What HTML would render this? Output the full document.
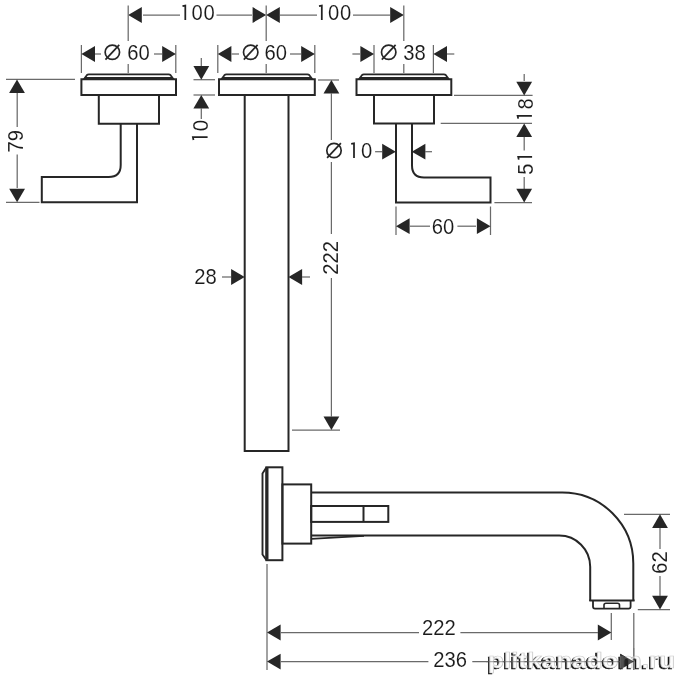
<!DOCTYPE html>
<html><head><meta charset="utf-8"><style>
html,body{margin:0;padding:0;background:#fff;width:675px;height:675px;overflow:hidden}
svg{display:block;filter:grayscale(1)}
text{font-family:"Liberation Sans",sans-serif;fill:#1a1a1a;stroke:#fff;stroke-width:0.1px}
</style></head><body>
<svg width="675" height="675" viewBox="0 0 675 675"><g opacity="0.999">
<line x1="143" y1="15" x2="180" y2="15" stroke="#6a6a6a" stroke-width="1.25"/>
<line x1="216.5" y1="15" x2="252" y2="15" stroke="#6a6a6a" stroke-width="1.25"/>
<polygon points="128.20,15.00 141.80,7.10 141.80,22.90" fill="#262626"/>
<polygon points="266.20,15.00 252.60,7.10 252.60,22.90" fill="#262626"/>
<path d="M182.50,6.20 L185.30,5.60 L185.30,19.90" fill="none" stroke="#222" stroke-width="1.75" stroke-linejoin="miter"/>
<text x="0.40" y="7.80" transform="translate(203.10,12.65) scale(0.92,1)" text-anchor="middle" font-size="22" letter-spacing="0.8">00</text>
<line x1="280" y1="15" x2="317" y2="15" stroke="#6a6a6a" stroke-width="1.25"/>
<line x1="353" y1="15" x2="390" y2="15" stroke="#6a6a6a" stroke-width="1.25"/>
<polygon points="266.20,15.00 279.80,7.10 279.80,22.90" fill="#262626"/>
<polygon points="403.80,15.00 390.20,7.10 390.20,22.90" fill="#262626"/>
<path d="M319.00,6.20 L321.80,5.60 L321.80,19.90" fill="none" stroke="#222" stroke-width="1.75" stroke-linejoin="miter"/>
<text x="0.40" y="7.80" transform="translate(339.65,12.65) scale(0.92,1)" text-anchor="middle" font-size="22" letter-spacing="0.8">00</text>
<line x1="128.2" y1="5.5" x2="128.2" y2="41" stroke="#6a6a6a" stroke-width="1.25"/>
<line x1="128.2" y1="64" x2="128.2" y2="73" stroke="#6a6a6a" stroke-width="1.25"/>
<line x1="266.2" y1="5.5" x2="266.2" y2="41" stroke="#6a6a6a" stroke-width="1.25"/>
<line x1="266.2" y1="64" x2="266.2" y2="73" stroke="#6a6a6a" stroke-width="1.25"/>
<line x1="403.8" y1="5.5" x2="403.8" y2="41" stroke="#6a6a6a" stroke-width="1.25"/>
<line x1="403.8" y1="64" x2="403.8" y2="73" stroke="#6a6a6a" stroke-width="1.25"/>
<line x1="81.4" y1="45" x2="81.4" y2="73" stroke="#6a6a6a" stroke-width="1.25"/>
<line x1="175.8" y1="45" x2="175.8" y2="73" stroke="#6a6a6a" stroke-width="1.25"/>
<polygon points="81.40,54.00 95.00,46.10 95.00,61.90" fill="#262626"/>
<polygon points="175.80,54.00 162.20,46.10 162.20,61.90" fill="#262626"/>
<line x1="95" y1="54" x2="101" y2="54" stroke="#6a6a6a" stroke-width="1.25"/>
<line x1="154" y1="54" x2="162" y2="54" stroke="#6a6a6a" stroke-width="1.25"/>
<circle cx="112.35" cy="52.25" r="7.2" fill="none" stroke="#262626" stroke-width="1.7"/>
<line x1="105.45" y1="59.65" x2="119.25" y2="44.85" stroke="#262626" stroke-width="1.7"/>
<text x="-0.00" y="7.80" transform="translate(138.55,52.25) scale(0.92,1)" text-anchor="middle" font-size="22">60</text>
<line x1="217.8" y1="45" x2="217.8" y2="73" stroke="#6a6a6a" stroke-width="1.25"/>
<line x1="314.8" y1="45" x2="314.8" y2="73" stroke="#6a6a6a" stroke-width="1.25"/>
<polygon points="217.80,54.00 231.40,46.10 231.40,61.90" fill="#262626"/>
<polygon points="314.80,54.00 301.20,46.10 301.20,61.90" fill="#262626"/>
<line x1="231.5" y1="54" x2="239" y2="54" stroke="#6a6a6a" stroke-width="1.25"/>
<line x1="290" y1="54" x2="301" y2="54" stroke="#6a6a6a" stroke-width="1.25"/>
<circle cx="250.7" cy="52.25" r="7.2" fill="none" stroke="#262626" stroke-width="1.7"/>
<line x1="243.80" y1="59.65" x2="257.60" y2="44.85" stroke="#262626" stroke-width="1.7"/>
<text x="-0.00" y="7.80" transform="translate(275.85,52.25) scale(0.92,1)" text-anchor="middle" font-size="22">60</text>
<line x1="374" y1="45" x2="374" y2="73" stroke="#6a6a6a" stroke-width="1.25"/>
<line x1="433.4" y1="45" x2="433.4" y2="73" stroke="#6a6a6a" stroke-width="1.25"/>
<polygon points="374.00,54.00 360.40,46.10 360.40,61.90" fill="#262626"/>
<polygon points="433.40,54.00 447.00,46.10 447.00,61.90" fill="#262626"/>
<line x1="352.4" y1="54" x2="360" y2="54" stroke="#6a6a6a" stroke-width="1.25"/>
<line x1="447" y1="54" x2="454.3" y2="54" stroke="#6a6a6a" stroke-width="1.25"/>
<circle cx="388.7" cy="52.25" r="7.2" fill="none" stroke="#262626" stroke-width="1.7"/>
<line x1="381.80" y1="59.65" x2="395.60" y2="44.85" stroke="#262626" stroke-width="1.7"/>
<text x="-0.00" y="7.80" transform="translate(414.55,52.25) scale(0.92,1)" text-anchor="middle" font-size="22">38</text>
<path d="M81.4,79.2 L81.4,95 L176,95 L176,79.2 Z" fill="none" stroke="#262626" stroke-width="2.0" stroke-linejoin="miter"/>
<path d="M83.80000000000001,79.2 L86.80000000000001,75.2 Q87.60000000000001,74.3 88.80000000000001,74.3 L168.6,74.3 Q169.8,74.3 170.6,75.2 L173.6,79.2" fill="none" stroke="#262626" stroke-width="1.8" stroke-linejoin="miter"/>
<line x1="84.9" y1="78.0" x2="172.5" y2="78.0" stroke="#262626" stroke-width="1.8"/>
<path d="M219,79.2 L219,95 L314.8,95 L314.8,79.2 Z" fill="none" stroke="#262626" stroke-width="2.0" stroke-linejoin="miter"/>
<path d="M221.4,79.2 L224.4,75.2 Q225.2,74.3 226.4,74.3 L307.40000000000003,74.3 Q308.6,74.3 309.40000000000003,75.2 L312.40000000000003,79.2" fill="none" stroke="#262626" stroke-width="1.8" stroke-linejoin="miter"/>
<line x1="222.5" y1="78.0" x2="311.3" y2="78.0" stroke="#262626" stroke-width="1.8"/>
<path d="M356.5,79.2 L356.5,95 L451.3,95 L451.3,79.2 Z" fill="none" stroke="#262626" stroke-width="2.0" stroke-linejoin="miter"/>
<path d="M358.9,79.2 L361.9,75.2 Q362.7,74.3 363.9,74.3 L443.90000000000003,74.3 Q445.1,74.3 445.90000000000003,75.2 L448.90000000000003,79.2" fill="none" stroke="#262626" stroke-width="1.8" stroke-linejoin="miter"/>
<line x1="360.0" y1="78.0" x2="447.8" y2="78.0" stroke="#262626" stroke-width="1.8"/>
<path d="M98.8,95 L98.8,123.7 L159,123.7 L159,95" fill="none" stroke="#262626" stroke-width="2.0" stroke-linejoin="miter"/>
<path d="M120.7,123.7 L120.7,165 Q120.7,177 108.7,177 L41.8,177 L41.8,202.3 L137,202.3 L137,123.7" fill="none" stroke="#262626" stroke-width="2.0" stroke-linejoin="miter"/>
<path d="M374,95 L374,123.6 L434,123.6 L434,95" fill="none" stroke="#262626" stroke-width="2.0" stroke-linejoin="miter"/>
<path d="M396,123.6 L396,202.5 L490.5,202.5 L490.5,177.4 L424,177.4 Q412,177.4 412,165.4 L412,123.6" fill="none" stroke="#262626" stroke-width="2.0" stroke-linejoin="miter"/>
<path d="M244.7,95 L244.7,451 L288.5,451 L288.5,95" fill="none" stroke="#262626" stroke-width="2.0" stroke-linejoin="miter"/>
<line x1="6" y1="79.4" x2="75" y2="79.4" stroke="#6a6a6a" stroke-width="1.25"/>
<line x1="6" y1="202.3" x2="39.5" y2="202.3" stroke="#6a6a6a" stroke-width="1.25"/>
<line x1="17.2" y1="93" x2="17.2" y2="127" stroke="#6a6a6a" stroke-width="1.25"/>
<line x1="17.2" y1="154.5" x2="17.2" y2="188" stroke="#6a6a6a" stroke-width="1.25"/>
<polygon points="17.00,79.40 9.10,93.00 24.90,93.00" fill="#262626"/>
<polygon points="17.10,202.30 9.20,188.70 25.00,188.70" fill="#262626"/>
<text x="-0.00" y="7.80" transform="translate(15.50,141.30) rotate(-90) scale(0.92,1)" text-anchor="middle" font-size="22">79</text>
<line x1="193.5" y1="79.7" x2="215" y2="79.7" stroke="#6a6a6a" stroke-width="1.25"/>
<line x1="193.5" y1="95" x2="215" y2="95" stroke="#6a6a6a" stroke-width="1.25"/>
<line x1="201.3" y1="58" x2="201.3" y2="66" stroke="#6a6a6a" stroke-width="1.25"/>
<polygon points="201.30,79.70 193.40,66.10 209.20,66.10" fill="#262626"/>
<polygon points="201.30,95.00 193.40,108.60 209.20,108.60" fill="#262626"/>
<line x1="201.3" y1="108" x2="201.3" y2="119" stroke="#6a6a6a" stroke-width="1.25"/>
<path d="M193.50,140.00 L192.90,137.20 L207.60,137.20" fill="none" stroke="#222" stroke-width="1.75" stroke-linejoin="miter"/>
<text x="-0.00" y="7.80" transform="translate(200.25,125.65) rotate(-90) scale(0.92,1)" text-anchor="middle" font-size="22">0</text>
<line x1="318" y1="80" x2="339" y2="80" stroke="#6a6a6a" stroke-width="1.25"/>
<line x1="292" y1="430" x2="340" y2="430" stroke="#6a6a6a" stroke-width="1.25"/>
<polygon points="331.40,80.00 323.50,93.60 339.30,93.60" fill="#262626"/>
<polygon points="331.40,430.00 323.50,416.40 339.30,416.40" fill="#262626"/>
<line x1="331.4" y1="93" x2="331.4" y2="140" stroke="#6a6a6a" stroke-width="1.25"/>
<line x1="331.4" y1="162" x2="331.4" y2="234" stroke="#6a6a6a" stroke-width="1.25"/>
<line x1="331.4" y1="278" x2="331.4" y2="417" stroke="#6a6a6a" stroke-width="1.25"/>
<text x="-0.00" y="7.80" transform="translate(330.60,257.80) rotate(-90) scale(0.92,1)" text-anchor="middle" font-size="22">222</text>
<polygon points="244.70,277.00 231.10,269.10 231.10,284.90" fill="#262626"/>
<line x1="222" y1="277" x2="231" y2="277" stroke="#6a6a6a" stroke-width="1.25"/>
<polygon points="288.50,277.00 302.10,269.10 302.10,284.90" fill="#262626"/>
<line x1="302" y1="277" x2="310" y2="277" stroke="#6a6a6a" stroke-width="1.25"/>
<text x="-0.00" y="7.80" transform="translate(205.40,276.30) scale(0.92,1)" text-anchor="middle" font-size="22">28</text>
<polygon points="395.80,151.70 382.20,143.80 382.20,159.60" fill="#262626"/>
<line x1="375.1" y1="151.7" x2="382" y2="151.7" stroke="#6a6a6a" stroke-width="1.25"/>
<polygon points="411.80,151.70 425.40,143.80 425.40,159.60" fill="#262626"/>
<line x1="425" y1="151.7" x2="432" y2="151.7" stroke="#6a6a6a" stroke-width="1.25"/>
<circle cx="334" cy="150.5" r="7.2" fill="none" stroke="#262626" stroke-width="1.7"/>
<line x1="327.10" y1="157.90" x2="340.90" y2="143.10" stroke="#262626" stroke-width="1.7"/>
<path d="M351.20,143.90 L354.00,143.30 L354.00,157.90" fill="none" stroke="#222" stroke-width="1.75" stroke-linejoin="miter"/>
<text x="-0.00" y="7.80" transform="translate(366.65,150.65) scale(0.92,1)" text-anchor="middle" font-size="22">0</text>
<line x1="396" y1="206.5" x2="396" y2="235" stroke="#6a6a6a" stroke-width="1.25"/>
<line x1="490.5" y1="206.5" x2="490.5" y2="235" stroke="#6a6a6a" stroke-width="1.25"/>
<polygon points="396.00,226.20 409.60,218.30 409.60,234.10" fill="#262626"/>
<polygon points="490.50,226.20 476.90,218.30 476.90,234.10" fill="#262626"/>
<line x1="409.6" y1="226.2" x2="430" y2="226.2" stroke="#6a6a6a" stroke-width="1.25"/>
<line x1="457.4" y1="226.2" x2="476" y2="226.2" stroke="#6a6a6a" stroke-width="1.25"/>
<text x="-0.00" y="7.80" transform="translate(443.00,226.00) scale(0.92,1)" text-anchor="middle" font-size="22">60</text>
<line x1="454" y1="95.4" x2="532.6" y2="95.4" stroke="#6a6a6a" stroke-width="1.25"/>
<line x1="440.7" y1="123.4" x2="532" y2="123.4" stroke="#6a6a6a" stroke-width="1.25"/>
<line x1="494.4" y1="202.5" x2="532" y2="202.5" stroke="#6a6a6a" stroke-width="1.25"/>
<line x1="524.2" y1="74" x2="524.2" y2="81" stroke="#6a6a6a" stroke-width="1.25"/>
<polygon points="524.20,95.40 516.30,81.80 532.10,81.80" fill="#262626"/>
<path d="M518.20,118.60 L517.60,115.80 L531.90,115.80" fill="none" stroke="#222" stroke-width="1.75" stroke-linejoin="miter"/>
<text x="-0.00" y="7.80" transform="translate(524.90,103.75) rotate(-90) scale(0.92,1)" text-anchor="middle" font-size="22">8</text>
<polygon points="524.20,123.50 516.30,137.10 532.10,137.10" fill="#262626"/>
<line x1="524.2" y1="137" x2="524.2" y2="150.5" stroke="#6a6a6a" stroke-width="1.25"/>
<path d="M518.80,159.60 L518.20,156.80 L532.10,156.80" fill="none" stroke="#222" stroke-width="1.75" stroke-linejoin="miter"/>
<text x="-0.00" y="7.80" transform="translate(525.25,169.20) rotate(-90) scale(0.92,1)" text-anchor="middle" font-size="22">5</text>
<line x1="524.2" y1="177" x2="524.2" y2="189" stroke="#6a6a6a" stroke-width="1.25"/>
<polygon points="524.20,202.40 516.30,188.80 532.10,188.80" fill="#262626"/>
<path d="M266.5,467.3 L262.5,473.5 L262.5,554.5 L266.5,560.2" fill="none" stroke="#262626" stroke-width="1.9" stroke-linejoin="miter"/>
<rect x="266.4" y="467.3" width="16.00" height="92.90" fill="none" stroke="#262626" stroke-width="2.0"/>
<line x1="267" y1="468" x2="267" y2="559.5" stroke="#262626" stroke-width="3"/>
<rect x="282.4" y="484.4" width="28.80" height="59.20" fill="none" stroke="#262626" stroke-width="2.0"/>
<path d="M311.2,492.5 L562.3,492.5 A71,71 0 0 1 633.3,563.5 L633.3,601" fill="none" stroke="#262626" stroke-width="2.0" stroke-linejoin="miter"/>
<path d="M311.2,535.6 L559.2,535.6 A31,31.2 0 0 1 590.2,566.8 L590.2,601" fill="none" stroke="#262626" stroke-width="2.0" stroke-linejoin="miter"/>
<line x1="311.2" y1="538.8" x2="364" y2="535.8" stroke="#262626" stroke-width="1.7"/>
<rect x="311.2" y="506" width="77.10" height="15.90" fill="none" stroke="#262626" stroke-width="2.0"/>
<line x1="363.5" y1="506" x2="363.5" y2="521.9" stroke="#262626" stroke-width="2"/>
<line x1="589.3" y1="600.5" x2="634.6" y2="600.5" stroke="#262626" stroke-width="2.2"/>
<path d="M593,600.5 L593,606.5 Q593,608.6 595,608.6 L628.6,608.6 Q630.6,608.6 630.6,606.5 L630.6,600.5" fill="none" stroke="#262626" stroke-width="1.8" stroke-linejoin="miter"/>
<path d="M604,608.6 L604,605 Q604,603.3 606,603.3 L617.5,603.3 Q619.5,603.3 619.5,605 L619.5,608.6" fill="none" stroke="#262626" stroke-width="1.6" stroke-linejoin="miter"/>
<line x1="624" y1="514.3" x2="670" y2="514.3" stroke="#6a6a6a" stroke-width="1.25"/>
<line x1="637.8" y1="609.5" x2="670" y2="609.5" stroke="#6a6a6a" stroke-width="1.25"/>
<polygon points="660.00,514.30 652.10,527.90 667.90,527.90" fill="#262626"/>
<polygon points="660.00,609.40 652.10,595.80 667.90,595.80" fill="#262626"/>
<line x1="660" y1="528" x2="660" y2="549" stroke="#6a6a6a" stroke-width="1.25"/>
<line x1="660" y1="576" x2="660" y2="596" stroke="#6a6a6a" stroke-width="1.25"/>
<text x="-0.00" y="7.80" transform="translate(659.30,562.40) rotate(-90) scale(0.92,1)" text-anchor="middle" font-size="22">62</text>
<line x1="267" y1="564" x2="267" y2="670" stroke="#6a6a6a" stroke-width="1.25"/>
<line x1="611.3" y1="613" x2="611.3" y2="640" stroke="#6a6a6a" stroke-width="1.25"/>
<line x1="633.8" y1="613" x2="633.8" y2="670" stroke="#6a6a6a" stroke-width="1.25"/>
<polygon points="267.00,632.50 280.60,624.60 280.60,640.40" fill="#262626"/>
<polygon points="611.40,632.50 597.80,624.60 597.80,640.40" fill="#262626"/>
<line x1="281" y1="632.5" x2="419" y2="632.5" stroke="#6a6a6a" stroke-width="1.25"/>
<line x1="460.4" y1="632.5" x2="598" y2="632.5" stroke="#6a6a6a" stroke-width="1.25"/>
<text x="-0.00" y="7.80" transform="translate(438.80,627.50) scale(0.92,1)" text-anchor="middle" font-size="22">222</text>
<polygon points="267.00,661.60 280.60,653.70 280.60,669.50" fill="#262626"/>
<polygon points="633.80,661.60 620.20,653.70 620.20,669.50" fill="#262626"/>
<line x1="281" y1="661.6" x2="428.4" y2="661.6" stroke="#6a6a6a" stroke-width="1.25"/>
<line x1="472.3" y1="661.6" x2="620" y2="661.6" stroke="#6a6a6a" stroke-width="1.25"/>
<text x="-0.00" y="7.80" transform="translate(450.10,659.50) scale(0.92,1)" text-anchor="middle" font-size="22">236</text>
<g transform="translate(488,667.5) scale(1.215,1)"><text x="-1.3" y="1.3" font-size="21.5" font-weight="bold" style="fill:#111;stroke:#111;stroke-width:0.5px">plitkanadom.ru</text><text x="0" y="0" font-size="21.5" font-weight="bold" style="fill:#fcfcfc;stroke:#ccc;stroke-width:0.7px">plitkanadom.ru</text></g>
<g opacity="0.55"><line x1="486" y1="661.6" x2="620" y2="661.6" stroke="#6a6a6a" stroke-width="1.25"/><line x1="633.8" y1="648" x2="633.8" y2="670" stroke="#6a6a6a" stroke-width="1.25"/></g>
<g opacity="0.8"><polygon points="633.8,661.6 620.2,653.7 620.2,669.5" fill="#262626"/></g>
</g></svg>
</body></html>
